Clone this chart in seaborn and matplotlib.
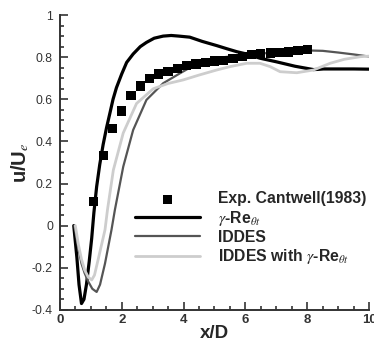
import numpy as np
import pandas as pd
import seaborn as sns
import matplotlib
matplotlib.use("Agg")
import matplotlib.pyplot as plt
from matplotlib.ticker import MultipleLocator

# experiment (Cantwell 1983)
exp_x = [1.1, 1.4, 1.7, 2.0, 2.3, 2.6, 2.9, 3.2, 3.5, 3.8, 4.1, 4.4,
         4.7, 5.0, 5.3, 5.6, 5.9, 6.2, 6.5, 6.8, 7.1, 7.4, 7.7, 8.0]
exp_u = [0.114, 0.333, 0.462, 0.544, 0.618, 0.663, 0.700, 0.720, 0.733, 0.748, 0.760, 0.768,
         0.775, 0.782, 0.786, 0.793, 0.803, 0.812, 0.817, 0.820, 0.822, 0.825, 0.830, 0.835]

# gamma-Re_theta_t
gre_x = [0.45, 0.55, 0.62, 0.70, 0.78, 0.86, 0.95, 1.03, 1.10, 1.19, 1.29, 1.40, 1.51, 1.62,
         1.72, 1.83, 2.0, 2.16, 2.37, 2.6, 2.8, 3.05, 3.34, 3.6, 3.85, 4.2, 4.6, 5.07, 5.4,
         5.72, 6.04, 6.47, 7.0, 7.6, 8.2, 8.35, 8.52, 9.0, 9.5, 10.0]
gre_u = [0.0, -0.15, -0.28, -0.37, -0.35, -0.28, -0.17, -0.06, 0.06, 0.185, 0.29, 0.385, 0.465, 0.535,
         0.60, 0.655, 0.72, 0.775, 0.815, 0.85, 0.87, 0.89, 0.90, 0.903, 0.90, 0.895, 0.875, 0.855, 0.84,
         0.826, 0.815, 0.795, 0.778, 0.757, 0.741, 0.742, 0.744, 0.744, 0.744, 0.743]

# IDDES
idd_x = [0.47, 0.6, 0.70, 0.80, 0.92, 1.05, 1.19, 1.3, 1.46, 1.67, 1.78, 2.05, 2.37, 2.8,
         3.34, 3.88, 4.5, 5.0, 5.5, 6.0, 6.5, 7.0, 7.5, 8.0, 8.5, 9.0, 9.5, 10.0]
idd_u = [0.0, -0.11, -0.18, -0.225, -0.266, -0.30, -0.315, -0.28, -0.18, -0.02, 0.075, 0.28, 0.454, 0.597,
         0.676, 0.723, 0.775, 0.795, 0.803, 0.81, 0.817, 0.823, 0.828, 0.832, 0.83, 0.822, 0.813, 0.803]

# IDDES with gamma-Re_theta_t
igr_x = [0.5, 0.6, 0.70, 0.80, 0.92, 1.03, 1.12, 1.24, 1.46, 1.54, 1.73, 2.05, 2.48, 3.02,
         3.5, 3.99, 4.5, 5.07, 5.5, 6.04, 6.47, 6.8, 7.12, 7.66, 8.2, 8.74, 9.2, 9.71, 10.0]
igr_u = [0.0, -0.09, -0.16, -0.21, -0.245, -0.258, -0.235, -0.16, -0.02, 0.075, 0.264, 0.44, 0.58, 0.65,
         0.675, 0.692, 0.715, 0.739, 0.755, 0.771, 0.771, 0.755, 0.731, 0.726, 0.739, 0.771, 0.79, 0.802, 0.805]

sns.set_style("ticks")
plt.rcParams['font.family'] = ['Liberation Sans', 'DejaVu Sans']
plt.rcParams['mathtext.fontset'] = 'stix'

fig = plt.figure(figsize=(3.74, 3.42), dpi=100)
ax = fig.add_axes([0.160, 0.094, 0.827, 0.862])

sns.scatterplot(x=exp_x, y=exp_u, ax=ax, marker='s', s=44, color='black', edgecolor='none',
                label='Exp. Cantwell(1983)', zorder=5)
sns.lineplot(x=gre_x, y=gre_u, ax=ax, color='black', lw=2.3, label=r'$\gamma$-Re$_{\theta t}$')
sns.lineplot(x=idd_x, y=idd_u, ax=ax, color='#555555', lw=1.6, label='IDDES')
sns.lineplot(x=igr_x, y=igr_u, ax=ax, color='#cdcdcd', lw=2.0, label=r'IDDES with $\gamma$-Re$_{\theta t}$')

ax.set_xlim(0, 10)
ax.set_ylim(-0.4, 1)
ax.xaxis.set_major_locator(MultipleLocator(2))
ax.xaxis.set_minor_locator(MultipleLocator(0.5))
ax.yaxis.set_minor_locator(MultipleLocator(0.05))
ax.set_yticks([-0.4, -0.2, 0, 0.2, 0.4, 0.6, 0.8, 1])
ax.set_yticklabels(['-0.4', '-0.2', '0', '0.2', '0.4', '0.6', '0.8', '1'])
ax.tick_params(which='both', direction='in', colors='#333333', width=1.2)
ax.tick_params(which='major', length=6)
ax.tick_params(which='minor', length=3)
ax.tick_params(axis='x', labelsize=9.5, pad=3)
ax.tick_params(axis='y', labelsize=8.8, pad=5)
for lab in ax.get_xticklabels():
    lab.set_fontweight('bold')
for s in ['left', 'bottom']:
    ax.spines[s].set_linewidth(1.4)
    ax.spines[s].set_color('#333333')
sns.despine(ax=ax)

ax.set_xlabel('x/D', fontsize=13.5, fontweight='bold', labelpad=-1)
ax.set_ylabel(r'u/U$_{e}$', fontsize=14.5, fontweight='bold', labelpad=1)

leg = ax.legend(loc='center left', bbox_to_anchor=(0.243, 0.275), frameon=False,
                borderaxespad=0, borderpad=0, handlelength=4.15, handletextpad=1.15,
                labelspacing=0.15, prop={'weight': 'bold', 'size': 11.3})

fig.savefig('out.png', dpi=100)
